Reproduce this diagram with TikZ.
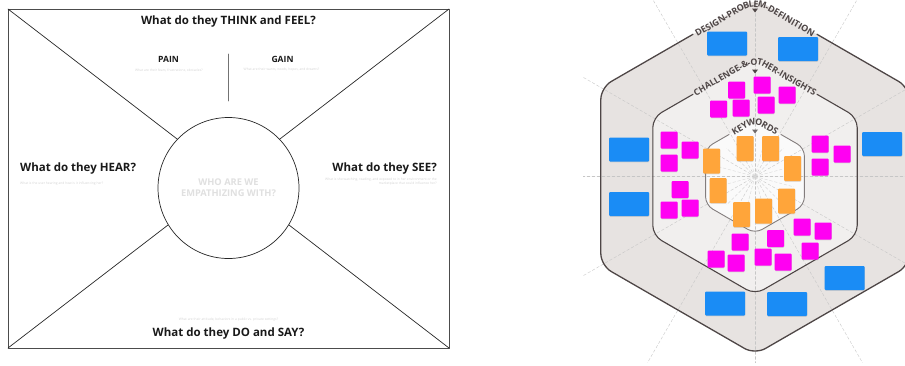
\documentclass[tikz,border=0pt]{standalone}
\usepackage{fontspec}
\setmainfont{Open Sans}
\usetikzlibrary{decorations.text,shadows}

\definecolor{notebl}{HTML}{1A8CF5}
\definecolor{notemg}{HTML}{FF00F2}
\definecolor{noteor}{HTML}{FFA53A}
\definecolor{hexout}{HTML}{E7E3E1}
\definecolor{hexmid}{HTML}{F1EFEE}
\definecolor{hexin}{HTML}{FAFAFA}
\definecolor{hexline}{HTML}{4E4646}
\definecolor{hint}{HTML}{D2D2D2}

\tikzset{
  heading/.style={font=\bfseries\fontsize{11.5}{12}\selectfont, text=black!90, inner sep=0},
  subhead/.style={font=\bfseries\fontsize{8.6}{9}\selectfont, text=black!90, inner sep=0},
  hinttext/.style={font=\fontsize{3.3}{4}\selectfont, text=hint, inner sep=0},
  note/.style={inner sep=0, rounded corners=1pt, drop shadow={opacity=0.22, shadow xshift=0.4pt, shadow yshift=-0.8pt}},
  bluenote/.style={note, fill=notebl, minimum width=40pt, minimum height=24pt},
  pinknote/.style={note, fill=notemg, minimum size=17pt},
  orangenote/.style={note, fill=noteor, minimum width=17pt, minimum height=25pt},
  spoke/.style={gray!45, dash pattern=on 3pt off 2pt, line width=0.4pt},
  ringlabel/.style={decorate, decoration={text along path, text align=center, raise=-3pt, text color=hexline}}
}

\begin{document}
\begin{tikzpicture}[x=1pt, y=-1pt, line cap=round, line join=round]
\useasboundingbox (0,0) rectangle (905,365);

% empathy map
\coordinate (TL) at (8,9);
\coordinate (TR) at (449,9);
\coordinate (BR) at (449,348);
\coordinate (BL) at (8,348);
\draw[black!70, line width=0.9pt] (TL) rectangle (BR);
\draw[black!85, line width=0.7pt] (TL) -- (BR);
\draw[black!85, line width=0.7pt] (BL) -- (TR);

\node[circle, draw=black!85, line width=0.7pt, fill=white, minimum size=141pt] (who) at (228.5,188) {};
\node[font=\bfseries\fontsize{9.3}{11}\selectfont, text=black!12, align=center] (whotxt) at (who) {WHO ARE WE\\EMPATHIZING WITH?};

\node[heading, anchor=base] (think) at (228.5,24.5) {What do they THINK and FEEL?};
\node[heading, anchor=base west] (hear) at (20,171) {What do they HEAR?};
\node[heading, anchor=base east] (see) at (437,171) {What do they SEE?};
\node[heading, anchor=base] (dosay) at (228.5,336.5) {What do they DO and SAY?};

\node[subhead, anchor=base] (pain) at (168.5,62) {PAIN};
\node[subhead, anchor=base] (gain) at (282.5,62) {GAIN};
\node[hinttext] (painhint) at (169,70) {What are their fears, frustrations, obstacles?};
\node[hinttext] (gainhint) at (281.5,70) {What are their wants, needs, hopes, and dreams?};
\coordinate (divtop) at (228.5,54);
\coordinate (divbot) at (228.5,101);
\draw[black!55, line width=0.8pt] (divtop) -- (divbot);

\node[hinttext, anchor=west] (hearhint) at (20,184) {What is the user hearing and how is it influencing her?};
\node[hinttext, anchor=east, align=right] (seehint) at (437,182) {What is she watching, reading, and exposed to in her environment or the\\marketplace that could influence her?};
\node[hinttext] (dohint) at (228.5,320) {What are their attitude, behaviors in a public vs. private settings?};

% hexagon canvas
\coordinate (hc) at (755,176.5);
\fill[hexout, rounded corners=12pt] (755,-1.5) -- (909.2,87.5) -- (909.2,265.5) -- (755,354.5) -- (600.8,265.5) -- (600.8,87.5) -- cycle;
\fill[hexmid, rounded corners=10pt] (755,58.5) -- (857.2,117.5) -- (857.2,235.5) -- (755,294.5) -- (652.8,235.5) -- (652.8,117.5) -- cycle;
\fill[hexin, rounded corners=8pt] (755,119.5) -- (804.4,148) -- (804.4,205) -- (755,233.5) -- (705.6,205) -- (705.6,148) -- cycle;

\begin{scope}
\clip (583,0) rectangle (905,362);
\foreach \a in {0,30,...,150}
  \draw[spoke] (hc) -- ++(\a:260) (hc) -- ++(\a+180:260);
\end{scope}
\foreach \a in {15,45,...,345}
  \draw[spoke, gray!30] (hc) -- ++(\a:40);

\draw[hexline, line width=1.3pt, rounded corners=12pt] (817,34.3) -- (909.2,87.5) -- (909.2,265.5) -- (755,354.5) -- (600.8,265.5) -- (600.8,87.5) -- (693,34.3);
\draw[hexline, line width=1.1pt, rounded corners=10pt] (817,94.3) -- (857.2,117.5) -- (857.2,235.5) -- (755,294.5) -- (652.8,235.5) -- (652.8,117.5) -- (693,94.3);
\draw[hexline!70, line width=0.9pt, rounded corners=8pt] (781,134.5) -- (804.4,148) -- (804.4,205) -- (755,233.5) -- (705.6,205) -- (705.6,148) -- (729,134.5);

\path[ringlabel, rounded corners=14pt, decoration={raise=-4.5pt, text={|\bfseries\fontsize{9}{9}\selectfont|DESIGN-PROBLEM-DEFINITION}}] (691,35.4) -- (755,-1.5) -- (819,35.4);
\path[ringlabel, rounded corners=12pt, decoration={text={|\bfseries\fontsize{8.8}{9}\selectfont|CHALLENGE-{\&}-OTHER-INSIGHTS}}] (691,95.4) -- (755,58.5) -- (819,95.4);
\path[ringlabel, rounded corners=8pt, decoration={text={|\bfseries\fontsize{9}{9}\selectfont|KEYWORDS}}] (727,135.7) -- (755,119.5) -- (783,135.7);

\fill[hexline] (752,8.5) -- (758,8.5) -- (755,12.5) -- cycle;
\fill[hexline] (752,69.5) -- (758,69.5) -- (755,73.5) -- cycle;
\fill[hexline!80] (752,129.5) -- (758,129.5) -- (755,133.5) -- cycle;

% sticky notes
\foreach \x/\y [count=\i] in {727/43.5, 798/49, 629/149.5, 629/204, 882/144, 844.5/278, 725/303.5, 787/304}
  \node[bluenote] (blue\i) at (\x,\y) {};
\foreach \x/\y [count=\i] in {736.5/90, 718.5/109, 741/108, 762/85, 787/95, 766/105,
    669/140, 690/150, 669/163, 680/189.5, 669/210, 690/208,
    820/144, 842/154, 820/167,
    740/242, 716/259, 736/263, 763/257, 775.5/238.5, 783/262, 802/227, 823/231, 810/251}
  \node[pinknote] (pink\i) at (\x,\y) {};
\foreach \x/\y [count=\i] in {745/148.5, 770.5/148.5, 711.5/161, 792.5/168.5, 718/190.5, 786.5/201, 741.5/214.5, 763.5/211}
  \node[orangenote] (key\i) at (\x,\y) {};
\end{tikzpicture}
\end{document}
